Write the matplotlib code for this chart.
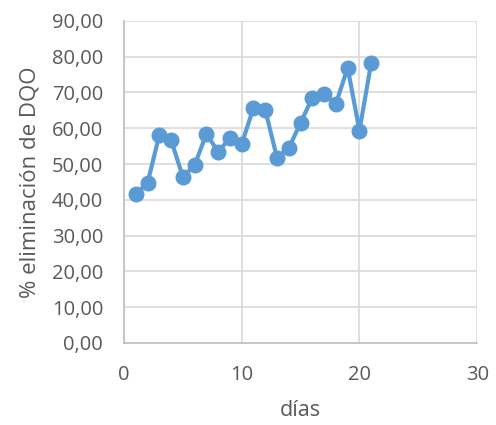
import matplotlib
matplotlib.use("Agg")
import matplotlib.pyplot as plt
from matplotlib.ticker import FuncFormatter

# % COD removal per day
dias = [1, 2, 3, 4, 5, 6, 7, 8, 9, 10, 11, 12, 13, 14, 15, 16, 17, 18, 19, 20, 21]
remocion = [41.6, 44.7, 58.1, 56.7, 46.4, 49.7, 58.4, 53.4, 57.3, 55.6, 65.7,
            65.1, 51.7, 54.5, 61.5, 68.5, 69.6, 66.8, 76.9, 59.3, 78.3]

plt.rcParams['font.family'] = ['Open Sans', 'DejaVu Sans']
gris = '#595959'
azul = '#5B9BD5'

fig = plt.figure(figsize=(4.96, 4.25), dpi=100)
ax = fig.add_axes([0.25, 0.193, 0.712, 0.758])

ax.plot(dias, remocion, color=azul, linewidth=3, marker='o',
        markersize=10.5, zorder=3)

ax.set_xlim(0, 30)
ax.set_ylim(0, 90)
ax.set_xticks([0, 10, 20, 30])
ax.set_yticks(range(0, 91, 10))
ax.yaxis.set_major_formatter(FuncFormatter(lambda v, p: f"{v:.2f}".replace('.', ',')))

ax.grid(True, color='#d9d9d9', linewidth=1.2, zorder=0)
ax.set_axisbelow(True)
for s in ['top', 'right']:
    ax.spines[s].set_visible(False)
for s in ['left', 'bottom']:
    ax.spines[s].set_color('#bfbfbf')
    ax.spines[s].set_linewidth(1.2)

ax.tick_params(length=0, labelsize=14.5, labelcolor=gris)
ax.tick_params(axis='y', pad=15)
ax.tick_params(axis='x', pad=16)
ax.set_xlabel('días', fontsize=15.5, color=gris, labelpad=11)
ax.set_ylabel('% eliminación de DQO', fontsize=16, color=gris, labelpad=8)

fig.savefig('out.png', dpi=100)
